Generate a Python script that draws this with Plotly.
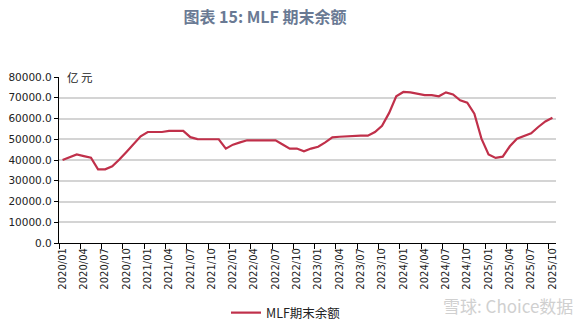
import plotly.graph_objects as go

# Month labels 2020/01 .. 2025/10
months = [f"{y}/{m:02d}" for y in range(2020, 2026) for m in range(1, 13)][:70]

# MLF period-end balance (亿元)
mlf_balance = [
    40000, 41400, 42700, 41900, 41100, 35500, 35500, 37000, 40200, 43900,
    47900, 51400, 53500, 53500, 53500, 54000, 54000, 54000, 51000, 50100,
    50000, 50000, 50000, 45500, 47400, 48500, 49500, 49500, 49500, 49500,
    49500, 47500, 45500, 45500, 44200, 45500, 46400, 48500, 50900, 51200,
    51400, 51700, 51700, 51700, 53500, 56500, 62700, 70700, 72800, 72600,
    71800, 71300, 71300, 70700, 72600, 71600, 68800, 67600, 62300, 50300,
    42700, 41000, 41600, 46600, 50300, 51600, 52900, 55900, 58600, 60400,
]

y_ticks = list(range(0, 80001, 10000))

fig = go.Figure()
fig.add_trace(go.Scatter(
    x=months, y=mlf_balance, mode="lines", name="MLF期末余额",
    line=dict(color="#c0304a", width=2.2),
))

fig.update_layout(
    width=583, height=323,
    margin=dict(l=59, r=27, t=77, b=80, autoexpand=False),
    paper_bgcolor="white", plot_bgcolor="white",
    font=dict(family="DejaVu Sans", size=10, color="#222222"),
    showlegend=True,
    legend=dict(
        orientation="h", xref="container", yref="container",
        x=226 / 583, xanchor="left", y=1 - 313 / 323, yanchor="middle",
        font=dict(family="Noto Sans CJK SC", size=12.5, color="#222222"),
        itemwidth=30, bgcolor="rgba(0,0,0,0)",
    ),
    title=dict(
        text="<b>图表 15: MLF 期末余额</b>",
        x=265 / 583, xanchor="center", y=1 - 17 / 323, yanchor="middle",
        font=dict(family="Noto Sans CJK SC", size=16, color="#6a7a94"),
    ),
)

fig.update_xaxes(
    type="category", tickson="boundaries", tickmode="linear", tick0=0, dtick=3,
    tickangle=-90, ticks="outside", ticklen=5, tickcolor="#000000",
    showline=True, linecolor="#000000", linewidth=1.2, showgrid=False,
    range=[-0.5, 69.5], automargin=False,
    tickfont=dict(family="DejaVu Sans", size=10, color="#222222"),
)
fig.update_yaxes(
    range=[0, 80000], tickvals=y_ticks, tickformat=".1f",
    ticks="outside", ticklen=4, tickcolor="#000000",
    showline=True, linecolor="#000000", linewidth=1.2,
    showgrid=True, gridcolor="#d4d4d4", gridwidth=1.5,
    zeroline=False, automargin=False,
    tickfont=dict(family="DejaVu Sans", size=10.5, color="#222222"),
)

# Unit label beside the top of the value axis
fig.add_annotation(
    text="亿 元", xref="paper", yref="paper", x=0.012, y=1.0,
    xanchor="left", yanchor="middle", showarrow=False,
    font=dict(family="Noto Sans CJK SC", size=11.5, color="#222222"),
)

# Source mark in the lower right corner
fig.add_annotation(
    text="雪球: Choice数据", xref="paper", yref="paper",
    x=(575 - 59) / 497, y=(243 - 305) / 166, xanchor="right", yanchor="middle",
    showarrow=False,
    font=dict(family="Noto Sans CJK SC", size=17, color="#d0d0d0"),
)

fig.write_html("out.html")
